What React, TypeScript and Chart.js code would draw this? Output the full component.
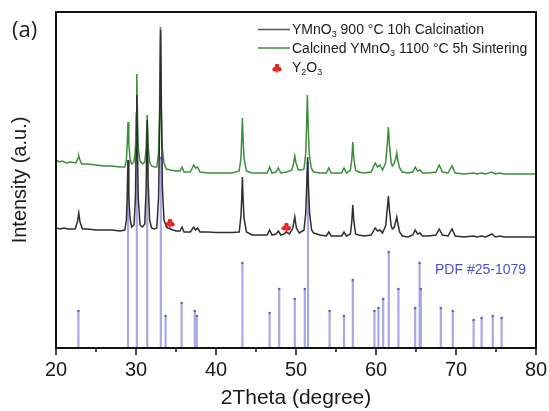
import { useEffect, useRef } from 'react';
import { Chart, registerables } from 'chart.js';

Chart.register(...registerables);

// ---- data (2θ in degrees, intensity in arbitrary units) ----
const xTickValues = [20, 30, 40, 50, 60, 70, 80];
const xMinorTickValues = [25, 35, 45, 55, 65, 75];

const sinteredPattern: [number, number][] = [
  [20.0, 188], [20.4, 186], [20.8, 187], [21.3, 185], [21.8, 186], [22.5, 185], [22.75, 190], [22.85, 192], [22.95, 189], [23.2, 184],
  [24.0, 184], [25.0, 183], [26.0, 182], [27.0, 182], [28.0, 181], [28.6, 181], [28.8, 188], [28.9, 203], [29.0, 226], [29.1, 205],
  [29.25, 189], [29.45, 184], [29.75, 186], [29.93, 200], [30.02, 235], [30.1, 274], [30.18, 235], [30.28, 200], [30.5, 187], [30.8, 184],
  [31.1, 186], [31.27, 200], [31.4, 233], [31.52, 202], [31.7, 186], [31.95, 182], [32.3, 181], [32.6, 181], [32.82, 195], [32.95, 240],
  [33.05, 321], [33.15, 245], [33.28, 200], [33.5, 185], [33.8, 179], [34.3, 178], [35.0, 177], [35.5, 177], [35.75, 181], [36.0, 176],
  [36.8, 176], [37.2, 183], [37.45, 180], [37.7, 181], [38.0, 176], [39.0, 175], [40.0, 175], [41.0, 175], [42.0, 175], [42.9, 177],
  [43.12, 190], [43.22, 210], [43.3, 230], [43.38, 210], [43.5, 190], [43.8, 177], [44.5, 175], [45.5, 175], [46.4, 175], [46.7, 181],
  [47.0, 175], [47.5, 176], [47.8, 180], [48.1, 175], [48.8, 176], [49.5, 178], [49.7, 185], [49.85, 192], [50.0, 185], [50.3, 178],
  [50.7, 178], [51.0, 179], [51.22, 195], [51.33, 225], [51.42, 253], [51.52, 222], [51.65, 195], [51.9, 180], [52.2, 176], [53.0, 175],
  [53.8, 175], [54.1, 180], [54.4, 175], [55.2, 175], [55.7, 175], [56.0, 180], [56.3, 175], [56.8, 178], [56.97, 188], [57.1, 206],
  [57.22, 190], [57.45, 178], [57.8, 176], [58.5, 175], [59.4, 176], [59.9, 185], [60.2, 181], [60.5, 183], [60.8, 178], [61.2, 185],
  [61.42, 205], [61.55, 221], [61.68, 203], [61.9, 185], [62.05, 182], [62.3, 185], [62.48, 190], [62.6, 195], [62.72, 188], [62.95, 180],
  [63.3, 176], [64.0, 175], [64.6, 176], [64.9, 181], [65.2, 177], [65.5, 178], [65.8, 175], [66.5, 175], [67.5, 176], [67.9, 183],
  [68.3, 176], [69.0, 175], [69.5, 182], [69.9, 175], [71.0, 174], [72.2, 175], [72.6, 174], [73.2, 175], [73.7, 174], [74.5, 176],
  [74.9, 174], [75.5, 175], [76.0, 174], [78.0, 174], [80.0, 174],
];

const calcinedPattern: [number, number][] = [
  [20.0, 120], [20.5, 119], [21.0, 120], [21.5, 119], [22.4, 119], [22.7, 127], [22.85, 135], [23.0, 126], [23.3, 119], [24.0, 119],
  [25.0, 118], [26.0, 118], [27.0, 118], [28.0, 117], [28.6, 118], [28.8, 128], [28.9, 150], [29.0, 188], [29.1, 152], [29.25, 130],
  [29.45, 121], [29.75, 123], [29.93, 150], [30.02, 200], [30.1, 253], [30.18, 200], [30.28, 150], [30.5, 123], [30.8, 121], [31.1, 124],
  [31.27, 160], [31.4, 228], [31.52, 165], [31.7, 128], [31.95, 120], [32.3, 119], [32.6, 120], [32.82, 150], [32.97, 230], [33.08, 318],
  [33.18, 235], [33.3, 160], [33.5, 128], [33.8, 121], [34.0, 120], [34.3, 119], [35.0, 117], [35.5, 117], [35.75, 121], [36.0, 116],
  [36.8, 116], [37.2, 121], [37.45, 118], [37.7, 120], [38.0, 116], [39.0, 116], [40.0, 115.5], [41.0, 115.5], [42.0, 115.5], [42.9, 116],
  [43.12, 132], [43.22, 150], [43.3, 171], [43.38, 150], [43.5, 130], [43.8, 116], [44.5, 113], [45.5, 113], [46.4, 113], [46.7, 118],
  [47.0, 113], [47.5, 114], [47.8, 117], [48.1, 113], [48.5, 114], [48.8, 116], [49.2, 114], [49.6, 120], [49.85, 131], [50.05, 120],
  [50.4, 115], [50.8, 117], [51.0, 118], [51.22, 135], [51.35, 165], [51.45, 191], [51.55, 162], [51.7, 135], [51.95, 118], [52.2, 115],
  [53.0, 113], [53.8, 112], [54.1, 116], [54.4, 112], [55.2, 112], [55.7, 112], [56.0, 116], [56.3, 112], [56.8, 114], [56.97, 126],
  [57.1, 143], [57.22, 128], [57.45, 114], [57.8, 113], [58.5, 112], [59.4, 113], [59.9, 120], [60.2, 117], [60.5, 118], [60.8, 115],
  [61.2, 122], [61.42, 140], [61.55, 152], [61.68, 138], [61.9, 122], [62.05, 119], [62.3, 121], [62.48, 127], [62.6, 131], [62.72, 125],
  [62.95, 116], [63.3, 112], [64.0, 111], [64.6, 113], [64.9, 118], [65.2, 114], [65.5, 115], [65.8, 112], [66.5, 112], [67.5, 113],
  [67.9, 119], [68.3, 113], [69.0, 112], [69.5, 119], [69.9, 112], [71.0, 111], [72.2, 112], [72.6, 111], [73.2, 112], [73.7, 111],
  [74.5, 114], [74.9, 111], [75.5, 112], [76.0, 111], [78.0, 111], [80.0, 111],
];

const y2o3Peaks: [number, number][] = [
  [34.25, 125], [48.8, 121],
];

const pdfReference: [number, number][] = [
  [22.8, 37], [29.0, 185], [30.1, 190], [31.4, 185], [33.1, 190], [33.7, 32], [35.7, 45], [37.35, 37], [37.6, 32],
  [43.3, 85], [46.7, 35], [47.9, 59], [49.85, 49], [51.1, 59], [51.5, 185], [54.2, 37], [56.0, 32], [57.1, 68],
  [59.8, 37], [60.3, 40], [60.9, 49], [61.6, 96], [62.8, 59], [64.9, 40], [65.45, 85], [65.6, 59], [68.1, 40],
  [69.6, 37], [72.2, 28], [73.2, 30], [74.6, 32], [75.7, 30],
];

const legendEntries: [string, boolean][][] = [
  [['YMnO', false], ['3', true], [' 900 °C 10h Calcination', false]],
  [['Calcined YMnO', false], ['3', true], [' 1100 °C 5h Sintering', false]],
  [['Y', false], ['2', true], ['O', false], ['3', true]],
];

const panelLabel = '(a)';
const pdfLabel = 'PDF #25-1079';
const xTitle = '2Theta (degree)';
const yTitle = 'Intensity (a.u.)';

const FONT = '"Liberation Sans", Arial, sans-serif';
const BLACK = '#2e2e2e';
const GREEN = '#3b8f3b';
const LAVENDER = '#a7a7e6';
const RED = '#e3231f';

function makeClub(): HTMLCanvasElement {
  const c = document.createElement('canvas');
  c.width = 10;
  c.height = 10;
  const g = c.getContext('2d')!;
  g.fillStyle = RED;
  const circ = (x: number, y: number, r: number) => {
    g.beginPath();
    g.arc(x, y, r, 0, Math.PI * 2);
    g.fill();
  };
  circ(5, 3, 2.3);
  circ(2.7, 6.2, 2.3);
  circ(7.3, 6.2, 2.3);
  g.beginPath();
  g.moveTo(5, 5.5);
  g.lineTo(3.8, 9.6);
  g.lineTo(6.2, 9.6);
  g.closePath();
  g.fill();
  return c;
}

export default function App() {
  const ref = useRef<HTMLCanvasElement | null>(null);

  useEffect(() => {
    if (!ref.current) return;
    const club = makeClub();

    const drawRich = (ctx: CanvasRenderingContext2D, parts: [string, boolean][], x: number, y: number, size: number) => {
      let cx = x;
      for (const [t, sub] of parts) {
        if (sub) {
          ctx.font = `${Math.round(size * 0.62)}px ${FONT}`;
          ctx.fillText(t, cx, y + size * 0.3);
        } else {
          ctx.font = `${size}px ${FONT}`;
          ctx.fillText(t, cx, y);
        }
        cx += ctx.measureText(t).width;
      }
    };

    const decor = {
      id: 'decor',
      afterDraw(chart: any) {
        const { ctx, chartArea: a } = chart;
        const x = chart.scales.x;
        ctx.save();
        // frame
        ctx.strokeStyle = '#111';
        ctx.lineWidth = 2;
        ctx.strokeRect(a.left, a.top, a.right - a.left, a.bottom - a.top);
        // ticks
        ctx.lineWidth = 1.5;
        const tick = (v: number, len: number) => {
          const px = x.getPixelForValue(v);
          ctx.beginPath();
          ctx.moveTo(px, a.bottom);
          ctx.lineTo(px, a.bottom + len);
          ctx.stroke();
        };
        xTickValues.forEach((v) => tick(v, 7));
        xMinorTickValues.forEach((v) => tick(v, 4));
        // panel label
        ctx.fillStyle = '#222';
        ctx.textBaseline = 'alphabetic';
        ctx.textAlign = 'left';
        ctx.font = `22px "Open Sans", ${FONT}`;
        ctx.fillText(panelLabel, 12, 37);
        // legend
        ctx.textBaseline = 'middle';
        const rows = [30.5, 49, 68];
        const colors = ['#555', GREEN];
        for (let i = 0; i < 2; i++) {
          ctx.strokeStyle = colors[i];
          ctx.lineWidth = 1.5;
          ctx.beginPath();
          ctx.moveTo(258, rows[i] - 1);
          ctx.lineTo(290, rows[i] - 1);
          ctx.stroke();
        }
        ctx.drawImage(club, 272, 63);
        ctx.fillStyle = '#1a1a1a';
        legendEntries.forEach((parts, i) => drawRich(ctx, parts, 292, rows[i], 14));
        // PDF label
        ctx.fillStyle = '#4f4fd0';
        ctx.font = `14px ${FONT}`;
        ctx.fillText(pdfLabel, 435, 270);
        ctx.restore();
      },
    };

    const chart = new Chart(ref.current, {
      type: 'line',
      data: {
        datasets: [
          {
            type: 'bar',
            data: pdfReference.map(([t, h]) => ({ x: t, y: h })),
            backgroundColor: LAVENDER,
            borderWidth: 0,
            barThickness: 1.5,
            order: 5,
          } as any,
          {
            type: 'scatter',
            data: pdfReference.map(([t, h]) => ({ x: t, y: h })),
            pointRadius: 1.3,
            pointBackgroundColor: '#6262b8',
            pointBorderWidth: 0,
            showLine: false,
            order: 4,
          } as any,
          {
            data: sinteredPattern.map(([t, v]) => ({ x: t, y: v })),
            borderColor: GREEN,
            borderWidth: 1.5,
            pointRadius: 0,
            tension: 0,
            fill: false,
            order: 3,
          },
          {
            data: calcinedPattern.map(([t, v]) => ({ x: t, y: v })),
            borderColor: BLACK,
            borderWidth: 1.5,
            pointRadius: 0,
            tension: 0,
            fill: false,
            order: 2,
          },
          {
            type: 'scatter',
            data: y2o3Peaks.map(([t, v]) => ({ x: t, y: v })),
            pointStyle: club,
            pointRadius: 5,
            showLine: false,
            order: 1,
          } as any,
        ],
      },
      options: {
        responsive: false,
        animation: false,
        events: [],
        layout: { padding: { top: 12, right: 13, left: 0, bottom: 0 } },
        plugins: { legend: { display: false }, tooltip: { enabled: false } },
        scales: {
          x: {
            type: 'linear',
            position: 'bottom',
            min: 20,
            max: 80,
            offset: false,
            grid: { display: false, drawTicks: false },
            border: { display: false },
            afterBuildTicks: (s: any) => {
              s.ticks = xTickValues.map((v) => ({ value: v }));
            },
            afterFit: (s: any) => {
              s.height = 63;
              s.paddingLeft = 0;
              s.paddingRight = 0;
            },
            ticks: {
              padding: 10,
              color: '#1a1a1a',
              font: { family: FONT, size: 20 },
              maxRotation: 0,
              autoSkip: false,
            },
            title: {
              display: true,
              text: xTitle,
              color: '#1a1a1a',
              font: { family: FONT, size: 21 },
              padding: { top: 0, bottom: 0 },
            },
          },
          y: {
            type: 'linear',
            min: 0,
            max: 336,
            grid: { display: false, drawTicks: false },
            border: { display: false },
            ticks: { display: false },
            afterFit: (s: any) => {
              s.width = 56;
            },
            title: {
              display: true,
              text: yTitle,
              color: '#1a1a1a',
              font: { family: FONT, size: 20 },
              padding: { top: 8, bottom: 0 },
            },
          },
        },
      },
      plugins: [decor],
    });
    return () => chart.destroy();
  }, []);

  return (
    <div style={{ position: 'absolute', left: 0, top: 0, width: 549, height: 411, background: '#fff' }}>
      <canvas ref={ref} width={549} height={411} style={{ display: 'block' }} />
    </div>
  );
}
